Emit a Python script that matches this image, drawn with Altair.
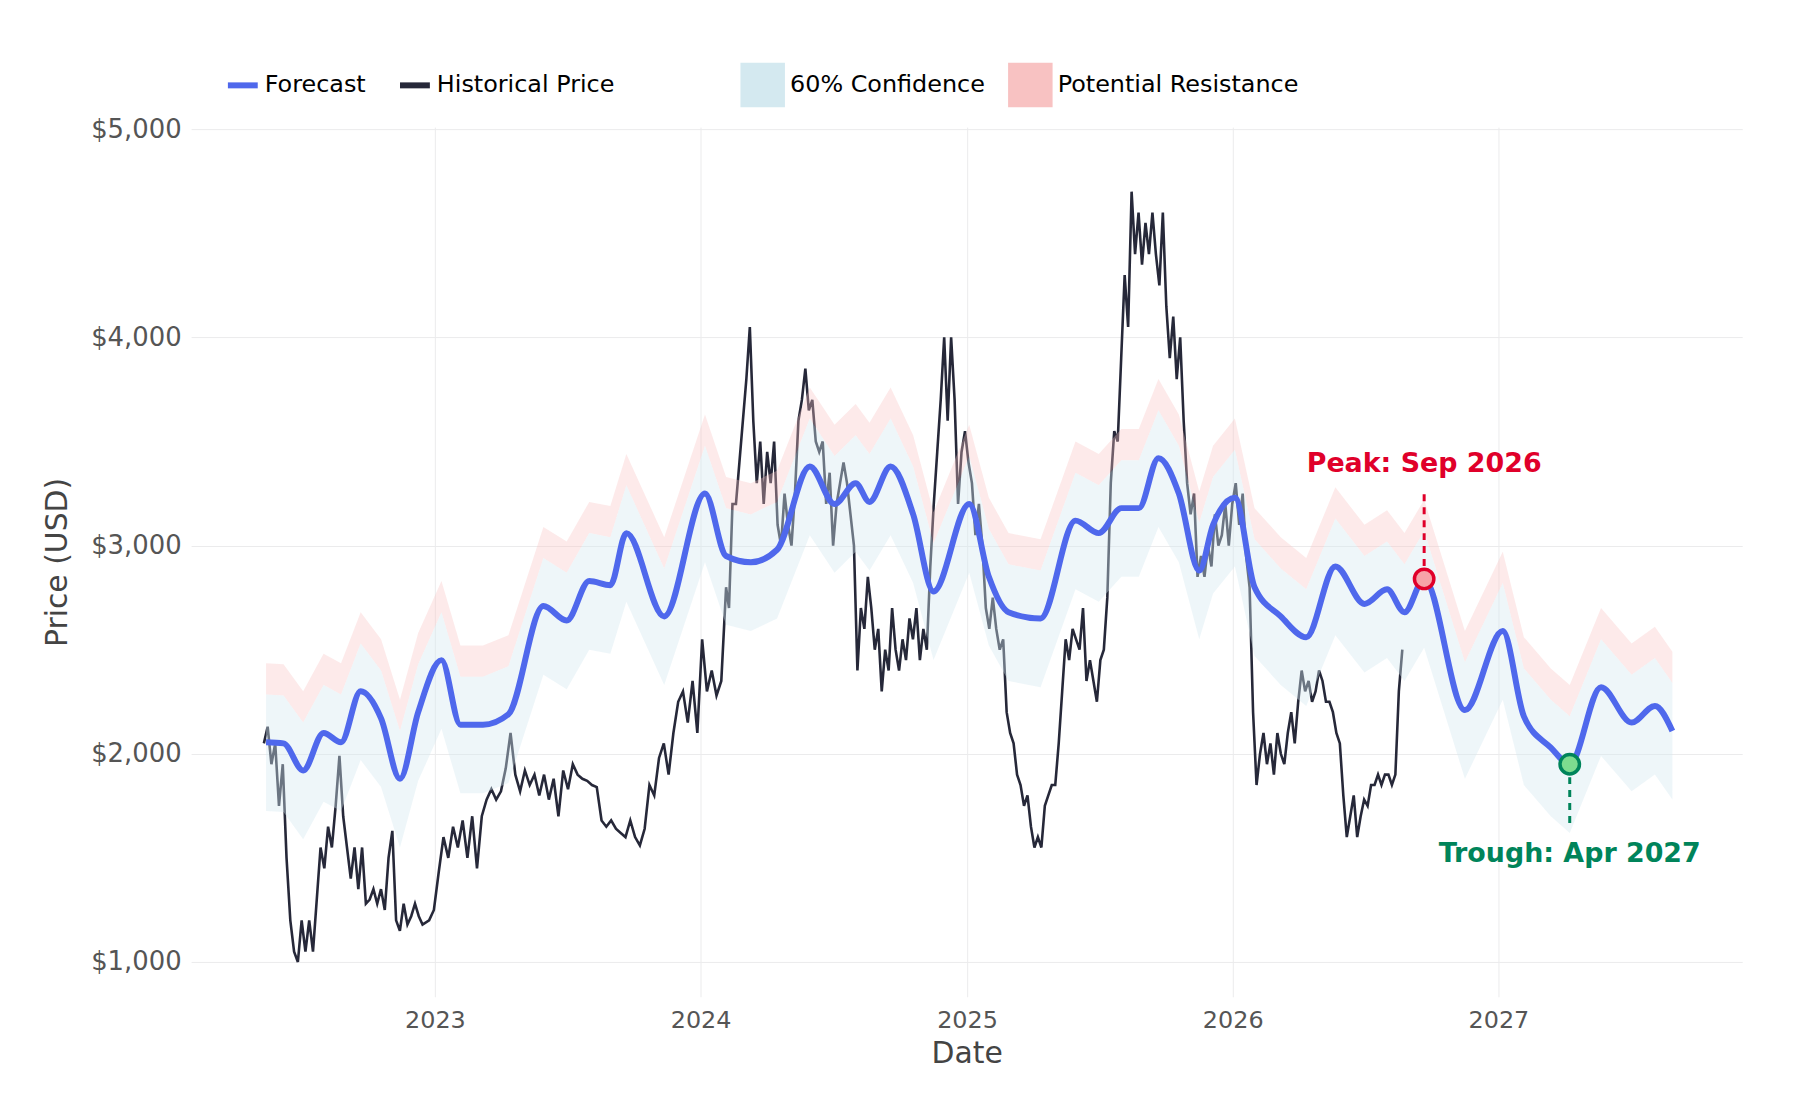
import altair as alt
import pandas as pd

# forecast (smoothed) with bands
fc_dates = ["2022-05-14", "2022-06-07", "2022-07-04", "2022-08-01", "2022-08-25", "2022-09-21",
            "2022-10-19", "2022-11-14", "2022-12-09", "2023-01-10", "2023-02-05", "2023-03-08",
            "2023-04-12", "2023-05-30", "2023-07-01", "2023-08-01", "2023-08-30", "2023-09-21",
            "2023-11-12", "2024-01-07", "2024-02-05", "2024-03-10", "2024-04-15", "2024-05-30",
            "2024-07-03", "2024-08-01", "2024-08-20", "2024-09-18", "2024-10-19", "2024-11-16",
            "2025-01-04", "2025-01-31", "2025-02-27", "2025-04-12", "2025-05-30", "2025-07-01",
            "2025-08-01", "2025-08-25", "2025-09-21", "2025-10-19", "2025-11-16", "2025-12-05",
            "2026-01-04", "2026-01-31", "2026-03-08", "2026-04-12", "2026-05-22", "2026-07-01",
            "2026-08-01", "2026-08-25", "2026-09-21", "2026-11-16", "2027-01-07", "2027-02-05",
            "2027-03-14", "2027-04-09", "2027-05-22", "2027-07-03", "2027-08-04", "2027-08-28"]
fc_vals = [2055, 2050, 1920, 2100, 2055, 2300, 2170, 1880, 2200, 2450, 2140, 2140, 2190, 2710, 2640,
           2830, 2810, 3060, 2660, 3250, 2950, 2920, 2980, 3380, 3200, 3300, 3210, 3380, 3150, 2780,
           3200, 2850, 2680, 2650, 3120, 3060, 3180, 3180, 3420, 3250, 2880, 3100, 3230, 2800, 2660,
           2560, 2900, 2720, 2790, 2680, 2840, 2210, 2590, 2180, 2030, 1950, 2320, 2150, 2230, 2110]
conf_lo = [1725, 1720, 1590, 1770, 1725, 1970, 1840, 1550, 1870, 2120, 1810, 1810, 1860, 2380, 2310,
           2500, 2480, 2730, 2330, 2920, 2620, 2590, 2650, 3050, 2870, 2970, 2880, 3050, 2820, 2450,
           2870, 2520, 2350, 2320, 2790, 2730, 2850, 2850, 3090, 2920, 2550, 2770, 2900, 2470, 2330,
           2230, 2570, 2390, 2460, 2350, 2510, 1880, 2260, 1850, 1700, 1620, 1990, 1820, 1900, 1780]
conf_hi = [2285, 2280, 2150, 2330, 2285, 2530, 2400, 2110, 2430, 2680, 2370, 2370, 2420, 2940, 2870,
           3060, 3040, 3290, 2890, 3480, 3180, 3150, 3210, 3610, 3430, 3530, 3440, 3610, 3380, 3010,
           3430, 3080, 2910, 2880, 3350, 3290, 3410, 3410, 3650, 3480, 3110, 3330, 3460, 3030, 2890,
           2790, 3130, 2950, 3020, 2910, 3070, 2440, 2820, 2410, 2260, 2180, 2550, 2380, 2460, 2340]
res_hi = [2435, 2430, 2300, 2480, 2435, 2680, 2550, 2260, 2580, 2830, 2520, 2520, 2570, 3090, 3020,
          3210, 3190, 3440, 3040, 3630, 3330, 3300, 3360, 3760, 3580, 3680, 3590, 3760, 3530, 3160,
          3580, 3230, 3060, 3030, 3500, 3440, 3560, 3560, 3800, 3630, 3260, 3480, 3610, 3180, 3040,
          2940, 3280, 3100, 3170, 3060, 3220, 2590, 2970, 2560, 2410, 2330, 2700, 2530, 2610, 2490]

# historical price, three evenly sampled stretches
hist_a = [2050, 2130, 1950, 2050, 1750, 1950, 1500, 1200, 1050, 1000, 1200, 1050, 1200, 1050, 1300,
          1550, 1450, 1650, 1550, 1750, 1990, 1700, 1550, 1400, 1550, 1350, 1550, 1280, 1300, 1350,
          1280, 1350, 1250, 1500, 1630, 1200, 1150, 1280, 1180, 1220, 1280, 1220, 1180]
hist_b = [1200, 1250, 1430, 1600, 1500, 1650, 1550, 1680, 1500, 1700, 1450, 1700, 1780, 1830, 1780,
          1820, 1930, 2100, 1900, 1820, 1920, 1850, 1900, 1800, 1900, 1780, 1880, 1700, 1920, 1830,
          1950, 1900, 1880, 1870, 1850, 1840, 1680, 1650, 1680, 1640, 1620, 1600, 1680, 1600, 1560,
          1640, 1850, 1800, 1980, 2050, 1900, 2100, 2250, 2300, 2150, 2350, 2100, 2550, 2300, 2400,
          2280, 2350, 2800]
hist_c = [2700, 3200, 3200, 3400, 3600, 3800, 4050, 3600, 3300, 3500, 3200, 3450, 3300, 3500,
          3100, 3000, 3250, 3100, 3000, 3250, 3600, 3700, 3850, 3650, 3700, 3500, 3450, 3500, 3200,
          3350, 3000, 3200, 3300, 3400, 3300, 3150, 3000, 2400, 2700, 2600, 2850, 2700, 2500, 2600,
          2300, 2500, 2400, 2700, 2500, 2400, 2550, 2450, 2650, 2550, 2700, 2450, 2600, 2500, 2900,
          3200, 3450, 3700, 4000, 3600, 4000, 3700, 3200, 3450, 3550, 3400, 3300, 3050, 3200, 3000,
          2700, 2600, 2750, 2600, 2500, 2550, 2200, 2100, 2050, 1900, 1850, 1750, 1800, 1650, 1550,
          1600, 1550, 1750, 1800, 1850, 1850, 2050, 2300, 2550, 2450, 2600, 2550, 2500, 2700, 2350,
          2450, 2350, 2250, 2450, 2500, 2750, 3300, 3550, 3500, 3900, 4300, 4050, 4700, 4400, 4600,
          4350, 4550, 4400, 4600, 4400, 4250, 4600, 4150, 3900, 4100, 3800, 4000, 3600, 3300, 3150,
          3250, 2850, 2950, 2850, 3000, 2900, 3150, 3000, 3050, 3200, 3000, 3200, 3300, 3100, 3250,
          2950, 2800, 2200, 1850, 2000, 2100, 1950, 2050, 1900, 2100, 2000, 1950, 2100, 2200, 2050,
          2250, 2400, 2300, 2350, 2250, 2300, 2400, 2350, 2250, 2250, 2200, 2100, 2050, 1800, 1600,
          1700, 1800, 1600, 1700, 1780, 1750, 1850, 1850, 1900, 1850, 1900, 1900, 1850, 1900, 2300,
          2500]
hist_dates = (list(pd.date_range("2022-05-11", "2022-12-15", periods=len(hist_a)))
              + list(pd.date_range("2022-12-24", "2024-02-05", periods=len(hist_b)))
              + list(pd.date_range("2024-02-09", "2026-08-22", periods=len(hist_c))))

fc = pd.DataFrame({"date": pd.to_datetime(fc_dates), "price": fc_vals, "lo": conf_lo,
                   "hi": conf_hi, "rhi": res_hi, "series": "Forecast"})
hist = pd.DataFrame({"date": hist_dates, "price": hist_a + hist_b + hist_c,
                     "series": "Historical Price"})

peak = pd.DataFrame({"date": pd.to_datetime(["2026-09-21"]), "price": [2840], "tip": [3250],
                     "label_y": [3390], "label": ["Peak: Sep 2026"]})
trough = pd.DataFrame({"date": pd.to_datetime(["2027-04-09"]), "price": [1950], "tip": [1650],
                       "label_y": [1520], "label": ["Trough: Apr 2027"]})

FONT = "DejaVu Sans"
x = alt.X("date:T", title="Date",
          scale=alt.Scale(domain=["2022-01-31", "2027-12-02"]),
          axis=alt.Axis(format="%Y", tickCount="year", labelFontSize=24, titleFontSize=30,
                        labelColor="#555", titleColor="#444", titleFontWeight="normal",
                        domain=False, ticks=False, gridColor="#ebebec", labelPadding=12,
                        titlePadding=6))
yscale = alt.Scale(domain=[833, 5010], nice=False, zero=False)
y = alt.Y("price:Q", title="Price (USD)", scale=yscale,
          axis=alt.Axis(values=[1000, 2000, 3000, 4000, 5000], format="$,.0f",
                        labelFontSize=26, titleFontSize=30, labelColor="#555",
                        titleColor="#444", titleFontWeight="normal", domain=False, ticks=False,
                        gridColor="#ebebec", labelPadding=10, titlePadding=18))

line_color = alt.Color("series:N", scale=alt.Scale(domain=["Forecast", "Historical Price"],
                                                   range=["#4f68ec", "#262839"]),
                       legend=alt.Legend(title=None, orient="none", legendX=34, legendY=-60,
                                         direction="horizontal", symbolType="stroke",
                                         symbolStrokeWidth=6, symbolSize=900, labelFontSize=24,
                                         labelFont=FONT, labelLimit=0, columnPadding=22))
band_fill = alt.Fill("k:N", scale=alt.Scale(domain=["60% Confidence", "Potential Resistance"],
                                            range=["#d4e9f0", "#f8c2c2"]),
                     legend=alt.Legend(title=None, orient="none", legendX=551, legendY=-66,
                                       direction="horizontal", symbolType="square",
                                       symbolSize=2000, symbolOpacity=1, labelFontSize=24,
                                       labelFont=FONT, labelLimit=0, columnPadding=22))

base = alt.Chart(fc)
res_band = base.transform_calculate(k="'Potential Resistance'").mark_area(opacity=0.35).encode(
    x=x, y=alt.Y("hi:Q", scale=yscale), y2="rhi:Q", fill=band_fill)
conf_band = base.transform_calculate(k="'60% Confidence'").mark_area(opacity=0.4).encode(
    x=x, y=alt.Y("lo:Q", scale=yscale), y2="hi:Q", fill=band_fill)
hist_line = alt.Chart(hist).mark_line(strokeWidth=2.6).encode(x=x, y=y, color=line_color)
fc_line = base.mark_line(strokeWidth=6, interpolate="monotone").encode(x=x, y=y, color=line_color)


def annotate(df, stroke, fill):
    c = alt.Chart(df)
    rule = c.mark_rule(strokeDash=[7, 6], strokeWidth=3, color=stroke).encode(
        x="date:T", y=alt.Y("price:Q", scale=yscale), y2="tip:Q")
    dot = c.mark_point(filled=False, size=380, strokeWidth=3.5, opacity=1, fill=fill,
                       fillOpacity=1, color=stroke).encode(
        x="date:T", y=alt.Y("price:Q", scale=yscale))
    txt = c.mark_text(fontSize=27, fontWeight="bold", font=FONT, color=stroke).encode(
        x="date:T", y=alt.Y("label_y:Q", scale=yscale), text="label:N")
    return [rule, dot, txt]


chart = alt.layer(hist_line, res_band, conf_band, fc_line,
                  *annotate(peak, "#e0002a", "#f7a3a8"),
                  *annotate(trough, "#00845a", "#7ddc8f")).properties(
    width=1559, height=874, autosize="none",
    padding={"left": 184, "top": 117, "right": 50, "bottom": 100}
).configure(font=FONT).configure_view(strokeWidth=0, stroke=None)

chart.save("out.html", embed_options={"renderer": "svg", "actions": False})
